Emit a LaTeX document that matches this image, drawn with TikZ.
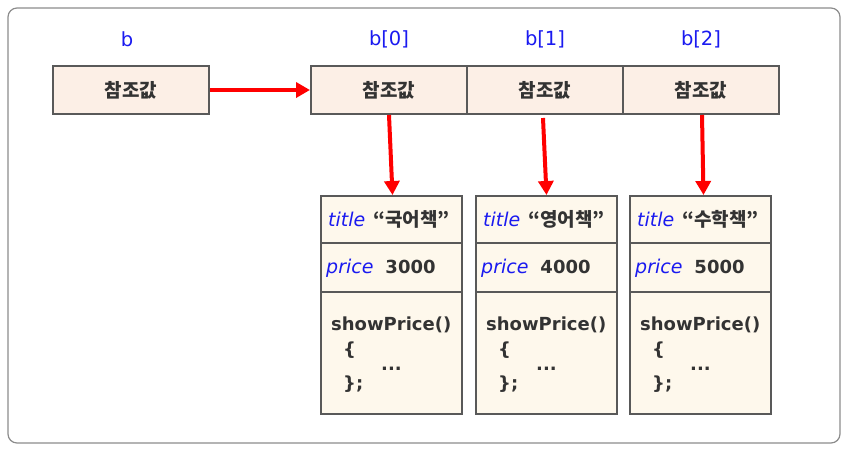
\documentclass[tikz,border=0pt]{standalone}
\usepackage{fontspec}
\setmainfont{DejaVu Sans}
\newfontfamily\krb{Noto Sans CJK KR}
\usetikzlibrary{arrows.meta}
\definecolor{frame}{HTML}{8C8C8C}
\definecolor{edge}{HTML}{595959}
\definecolor{refill}{HTML}{FCEFE6}
\definecolor{objfill}{HTML}{FEF8EC}
\definecolor{lblue}{HTML}{1A1AF0}
\definecolor{txt}{HTML}{333333}
\definecolor{arr}{HTML}{FF0000}
\tikzset{
  refbox/.style={draw=edge, line width=2pt, fill=refill, minimum width=156pt, minimum height=48pt, inner sep=0pt, font=\krb\bfseries\fontsize{19}{19}\selectfont, text=txt},
  sect/.style={draw=edge, line width=2pt, fill=objfill, minimum width=141pt, inner sep=0pt, anchor=north west},
  lbl/.style={text=lblue, font=\fontsize{19.5}{19.5}\selectfont},
  ftxt/.style={anchor=base west, inner sep=0pt, text=txt, font=\bfseries\fontsize{18}{18}\selectfont},
  redarrow/.style={draw=arr, line width=4pt, -{Triangle[length=14pt,width=15pt]}}
}
\begin{document}
\begin{tikzpicture}[x=1pt,y=-1pt]
\useasboundingbox (0,0) rectangle (849,453);
\draw[frame, line width=1.2pt, rounded corners=9pt] (8,8) rectangle (840,443);
% labels
\node[lbl] (lb) at (127,39) {b};
\node[lbl] (lb0) at (389,39) {b[0]};
\node[lbl] (lb1) at (545,39) {b[1]};
\node[lbl] (lb2) at (701,39) {b[2]};
% reference boxes
\node[refbox] (b) at (131,90) {참조값};
\node[refbox] (c0) at (389,90) {참조값};
\node[refbox] (c1) at (545,90) {참조값};
\node[refbox] (c2) at (701,90) {참조값};
% objects
\foreach \i/\x/\t/\p in {0/320/국어책/3000, 1/475/영어책/4000, 2/629/수학책/5000}{
  \node[sect, minimum height=47pt] (t\i) at (\x,195) {};
  \node[sect, minimum height=49pt] (p\i) at (\x,242) {};
  \node[sect, minimum height=122pt] (m\i) at (\x,291) {};
  \node[ftxt, anchor=west] (tt\i) at (\x+8,219) {{\color{lblue}\mdseries\itshape\fontsize{19}{19}\selectfont title}\hspace{8pt}{\krb\bfseries\fontsize{19}{19}\selectfont “\t”}};
  \node[ftxt, anchor=west] (pp\i) at (\x+6,268) {{\color{lblue}\mdseries\itshape\fontsize{19}{19}\selectfont price}\hspace{12pt}\p};
  \node[ftxt] (s\i) at (\x+11,330) {showPrice()};
  \node[ftxt] (ob\i) at (\x+23,355) {\{};
  \node[ftxt] (d\i) at (\x+61,370) {...};
  \node[ftxt] (cb\i) at (\x+23,389) {\};};
}
% arrows
\draw[redarrow] (b.east) -- (c0.west);
\draw[redarrow] (c0.south) -- ([xshift=1pt]t0.north);
\draw[redarrow] ([yshift=-3pt,xshift=-2pt]c1.south) -- (t1.north);
\draw[redarrow] ([xshift=1pt]c2.south) -- ([xshift=3pt]t2.north);
\end{tikzpicture}
\end{document}
